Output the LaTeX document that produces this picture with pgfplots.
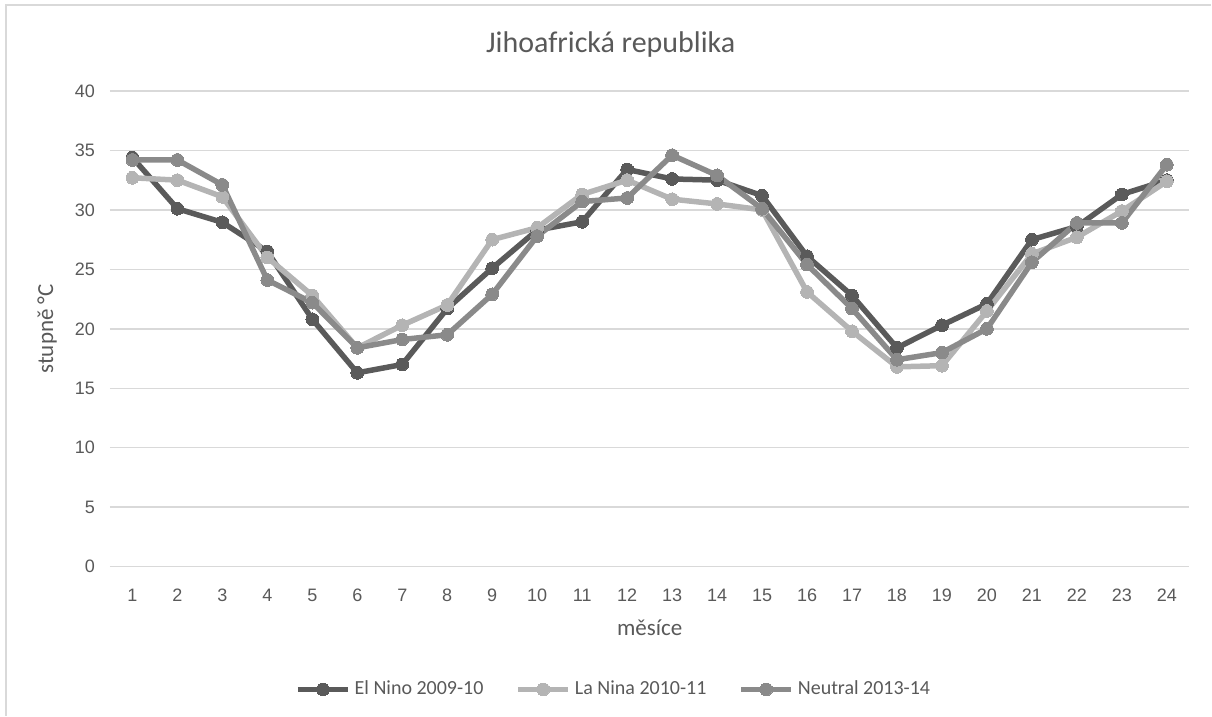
\documentclass[border=0pt]{standalone}
\usepackage{pgfplots}
\pgfplotsset{compat=1.18}
\usepackage{fontspec}
\setmainfont{Carlito}
\newfontfamily\tickfont{Liberation Sans}

\definecolor{txt}{HTML}{595959}
\definecolor{gridgray}{HTML}{D9D9D9}
\definecolor{elnino}{HTML}{5A5A5A}
\definecolor{lanina}{HTML}{B4B4B4}
\definecolor{neutral}{HTML}{8A8A8A}

\begin{document}
\begin{tikzpicture}[x=1pt,y=1pt]
% page size: 1 px of the reference = 0.5pt
\path (0,0) rectangle (606,358);
\draw[gridgray, line width=0.7pt] (3,0) -- (3,355.5) -- (606,355.5);

\node[anchor=base, text=txt, font=\fontsize{15}{18}\selectfont] at (305.5,331.5) {Jihoafrická republika};

\begin{axis}[
    at={(55pt,74.5pt)}, anchor=south west,
    scale only axis,
    width=540pt, height=238pt,
    xmin=0.5, xmax=24.5,
    ymin=0, ymax=40,
    xtick={1,...,24},
    ytick={0,5,...,40},
    ymajorgrids=true,
    grid style={draw=gridgray, line width=0.75pt},
    axis line style={draw=none},
    tick style={draw=none},
    /pgf/number format/assume math mode=true,
    ticklabel style={text=txt, font=\tickfont\fontsize{9}{11}\selectfont},
    xticklabel style={yshift=-7.5pt},
    yticklabel style={xshift=-4pt},
    xlabel={měsíce},
    ylabel={stupně °C},
    label style={text=txt, font=\fontsize{11.5}{13}\selectfont},
    xlabel style={at={(axis description cs:0.5,-0.128)}, anchor=center},
    ylabel style={at={(axis description cs:-0.0583,0.5)}, anchor=center},
    legend columns=3,
    legend style={at={(axis description cs:0.4676,-0.258)}, anchor=center,
        draw=none, fill=none, text=txt, font=\fontsize{10}{12}\selectfont,
        /tikz/every even column/.append style={column sep=14pt}},
    legend image code/.code={
        \draw[mark repeat=2,mark phase=2,#1] plot coordinates {(0pt,0pt) (12.5pt,0pt) (25pt,0pt)};
    },
    every axis plot/.append style={line width=2.75pt, mark=*, mark size=3.2pt},
]

\addplot[color=elnino, mark options={fill=elnino, draw=elnino, line width=0pt}] coordinates {
(1,34.4)(2,30.1)(3,28.95)(4,26.5)(5,20.8)(6,16.3)(7,17.0)(8,21.7)(9,25.1)(10,28.3)(11,29.0)(12,33.4)
(13,32.6)(14,32.5)(15,31.2)(16,26.1)(17,22.8)(18,18.4)(19,20.3)(20,22.1)(21,27.5)(22,28.6)(23,31.3)(24,32.5)
};
\addlegendentry{El Nino 2009-10}

\addplot[color=lanina, mark options={fill=lanina, draw=lanina, line width=0pt}] coordinates {
(1,32.7)(2,32.5)(3,31.1)(4,26.0)(5,22.8)(6,18.4)(7,20.3)(8,22.0)(9,27.5)(10,28.5)(11,31.3)(12,32.5)
(13,30.9)(14,30.5)(15,30.0)(16,23.1)(17,19.8)(18,16.8)(19,16.9)(20,21.5)(21,26.3)(22,27.7)(23,29.9)(24,32.4)
};
\addlegendentry{La Nina 2010-11}

\addplot[color=neutral, mark options={fill=neutral, draw=neutral, line width=0pt}] coordinates {
(1,34.2)(2,34.2)(3,32.1)(4,24.1)(5,22.2)(6,18.4)(7,19.1)(8,19.5)(9,22.9)(10,27.8)(11,30.7)(12,31.0)
(13,34.6)(14,32.9)(15,30.1)(16,25.4)(17,21.7)(18,17.4)(19,18.0)(20,20.0)(21,25.6)(22,28.9)(23,28.9)(24,33.8)
};
\addlegendentry{Neutral 2013-14}

\end{axis}
\end{tikzpicture}
\end{document}
